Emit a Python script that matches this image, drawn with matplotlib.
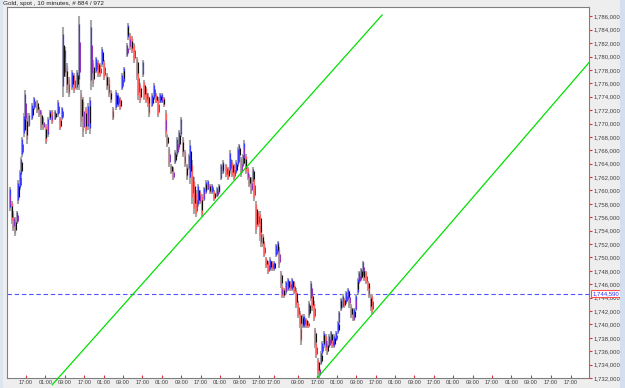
import matplotlib
matplotlib.use('Agg')
import matplotlib.pyplot as plt
import matplotlib.ticker as mticker
from matplotlib.patches import Rectangle

plt.rcParams['font.family'] = ['Liberation Sans', 'DejaVu Sans']

title = 'Gold, spot , 10 minutes, # 884 / 972'

# bar number (10 minute bars) and the low / high read for each sample
bar_idx = [7, 12, 15, 20, 25, 27, 32, 35, 37, 42, 45, 49, 54, 62, 67, 74, 79, 84, 89, 96,
           101, 106, 111, 119, 126, 131, 136, 139, 143, 148, 153, 161, 166, 173, 178, 183, 188, 195, 200, 205,
           208, 213, 220, 225, 230, 235, 240, 247, 252, 257, 262, 270, 275, 280, 285, 289, 297, 299, 304, 309,
           314, 322, 324, 329, 336, 339, 344, 349, 351, 359, 364, 369, 374, 379, 383, 388, 393, 396, 401, 406,
           411, 416, 421, 426, 430, 435, 440, 445, 450, 453, 458, 463, 468, 473, 477, 482, 487, 492, 497, 502,
           507, 512, 520, 524, 529, 534, 542, 547, 552, 557, 562, 567, 572, 574, 579, 584, 586, 591, 596, 599,
           604, 609, 611, 616, 621, 626, 628, 633, 636, 641, 646, 651, 656, 661, 666, 670, 673, 678, 680, 685,
           690, 695, 700, 705, 710, 715, 720, 725, 727, 732, 735, 740, 745, 747, 752, 755, 760, 762, 765, 770,
           772, 777, 780, 784, 789, 792, 797, 802, 804, 809, 814, 819, 821, 826, 831, 834, 839, 844, 846, 851,
           856, 859, 863, 868, 871, 876, 881, 883, 888, 893, 895, 900, 903]
lows = [1757.0, 1755.0, 1754.0, 1753.2, 1755.0, 1758.0, 1760.0, 1762.0, 1765.0, 1768.0, 1769.5, 1767.0, 1769.5, 1770.5, 1772.0, 1771.5, 1771.0, 1769.0, 1769.0, 1767.0,
        1768.0, 1770.5, 1770.0, 1770.5, 1771.0, 1769.0, 1770.5, 1774.0, 1777.0, 1774.5, 1774.0, 1775.0, 1774.5, 1775.0, 1775.0, 1769.5, 1768.0, 1768.5, 1769.0, 1768.5,
        1775.0, 1775.5, 1777.5, 1777.0, 1777.0, 1778.5, 1776.5, 1775.0, 1774.0, 1773.0, 1770.5, 1772.0, 1772.5, 1772.0, 1775.0, 1776.0, 1780.0, 1782.5, 1781.0, 1780.5,
        1779.0, 1776.5, 1773.5, 1773.0, 1777.0, 1773.5, 1773.0, 1772.5, 1771.0, 1772.5, 1773.5, 1773.0, 1771.0, 1773.0, 1773.0, 1772.5, 1768.0, 1766.5, 1763.5, 1762.5,
        1761.5, 1764.0, 1765.0, 1766.0, 1768.0, 1765.0, 1763.5, 1761.5, 1763.0, 1761.0, 1758.0, 1756.5, 1756.0, 1757.5, 1758.0, 1756.0, 1758.5, 1759.5, 1760.0, 1759.5,
        1759.5, 1758.5, 1759.0, 1759.5, 1761.5, 1762.5, 1762.0, 1761.5, 1762.5, 1762.0, 1761.5, 1762.5, 1763.5, 1764.5, 1762.0, 1763.5, 1764.0, 1762.5, 1761.5, 1760.5,
        1759.5, 1761.0, 1758.5, 1753.5, 1754.5, 1752.5, 1751.5, 1751.5, 1750.0, 1748.5, 1747.5, 1748.0, 1748.0, 1748.0, 1750.0, 1750.5, 1748.5, 1745.5, 1744.0, 1744.0,
        1744.5, 1745.0, 1745.0, 1745.0, 1744.5, 1742.5, 1741.0, 1739.5, 1737.0, 1739.5, 1739.5, 1739.5, 1739.5, 1741.0, 1743.5, 1742.0, 1740.5, 1736.5, 1735.0, 1732.5,
        1732.0, 1734.0, 1735.5, 1736.5, 1736.0, 1735.5, 1736.5, 1737.0, 1736.5, 1736.5, 1737.5, 1738.5, 1740.0, 1742.0, 1742.5, 1742.5, 1743.0, 1743.5, 1742.5, 1741.0,
        1740.5, 1740.5, 1742.0, 1744.5, 1746.0, 1746.5, 1747.0, 1746.5, 1746.0, 1745.0, 1744.0, 1742.0, 1741.5]
highs = [1760.5, 1758.5, 1757.0, 1756.0, 1757.0, 1761.5, 1763.0, 1765.0, 1768.0, 1771.5, 1775.0, 1771.5, 1771.5, 1773.0, 1774.0, 1773.5, 1772.5, 1772.0, 1771.0, 1770.0,
         1771.0, 1772.0, 1772.0, 1772.0, 1773.5, 1771.0, 1772.5, 1784.4, 1781.5, 1779.0, 1777.0, 1778.0, 1777.5, 1778.0, 1786.0, 1775.0, 1774.0, 1772.5, 1773.0, 1774.0,
         1785.4, 1779.5, 1780.0, 1779.5, 1779.0, 1781.5, 1779.5, 1777.5, 1777.0, 1775.0, 1772.5, 1775.0, 1774.5, 1774.0, 1777.5, 1778.5, 1782.0, 1785.0, 1783.5, 1783.0,
         1782.0, 1780.0, 1778.5, 1776.0, 1779.5, 1776.5, 1775.5, 1774.5, 1774.0, 1774.5, 1776.0, 1774.5, 1774.0, 1774.5, 1774.5, 1774.0, 1772.0, 1768.5, 1766.5, 1764.0,
         1763.5, 1766.0, 1768.0, 1769.0, 1771.0, 1768.0, 1766.0, 1764.0, 1765.5, 1767.5, 1764.5, 1762.0, 1760.0, 1761.0, 1760.0, 1759.5, 1760.5, 1761.5, 1761.5, 1761.0,
         1761.0, 1760.0, 1760.5, 1761.0, 1764.0, 1764.5, 1764.0, 1763.5, 1766.0, 1764.5, 1764.0, 1764.5, 1766.5, 1767.0, 1765.0, 1765.5, 1767.5, 1765.5, 1763.5, 1762.5,
         1762.0, 1763.5, 1762.0, 1758.5, 1757.0, 1757.0, 1754.5, 1753.5, 1752.5, 1750.0, 1749.5, 1750.0, 1749.5, 1749.5, 1752.0, 1752.5, 1751.5, 1748.0, 1746.0, 1745.5,
         1746.5, 1747.0, 1746.5, 1747.0, 1746.5, 1745.5, 1743.5, 1742.0, 1740.5, 1741.5, 1741.5, 1741.0, 1740.5, 1743.5, 1746.5, 1745.0, 1743.5, 1739.5, 1737.5, 1735.0,
         1734.0, 1736.0, 1737.5, 1739.0, 1738.5, 1737.5, 1738.5, 1739.0, 1738.0, 1738.5, 1739.0, 1740.5, 1742.0, 1744.0, 1744.5, 1744.0, 1745.0, 1745.5, 1745.0, 1743.0,
         1742.0, 1742.5, 1744.5, 1747.0, 1748.0, 1748.5, 1749.5, 1748.5, 1748.0, 1746.5, 1746.0, 1744.5, 1744.5]

last_price = 1744.59

# trend lines (bar, price) pairs
line1 = [(112, 1731.0), (928, 1786.2)]
line2 = [(769, 1732.1), (1500, 1783.3)]

tick_pos = [47, 95, 143, 191, 239, 287, 335, 383, 431, 479, 527, 575, 623, 660,
            720, 768, 816, 864, 912, 960, 1008, 1056, 1104, 1152, 1200, 1248, 1296, 1345, 1395]
tick_labels = ['17:00', '01:00', '09:00', '17:00', '01:00', '09:00', '17:00', '01:00', '09:00',
               '17:00', '01:00', '09:00', '17:00', '17:00', '09:00', '17:00', '01:00', '09:00',
               '17:00', '01:00', '09:00', '17:00', '01:00', '09:00', '17:00', '01:00', '09:00',
               '17:00', '17:00']

fig = plt.figure(figsize=(6.25, 3.88), dpi=100)
fig.patch.set_facecolor('#eeeeee')
ax = fig.add_axes([7 / 625, 10 / 388, 582 / 625, 371 / 388])
ax.set_facecolor('white')

# side strips of the window
fig.patches.append(Rectangle((620 / 625, 0), 5 / 625, 1, transform=fig.transFigure,
                             facecolor='#d3dfee', edgecolor='none', zorder=0))
fig.patches.append(Rectangle((0, 0), 3 / 625, 1, transform=fig.transFigure,
                             facecolor='#dde6f0', edgecolor='none', zorder=0))

# wicks
ax.vlines(bar_idx, lows, highs, color='#a8a8a8', lw=1.5, zorder=2)
# bodies coloured by direction
prev_mid = (lows[0] + highs[0]) / 2
for k, (b, lo, hi) in enumerate(zip(bar_idx, lows, highs)):
    mid = (lo + hi) / 2
    col = '#3a3aff' if mid >= prev_mid else '#ff6060'
    rng = hi - lo
    ax.vlines(b - 0.5, lo + 0.15 * rng, hi - 0.1 * rng, color=col, lw=0.9, zorder=3)
    if k % 2 == 1:
        ax.vlines(b + 1.5, lo + 0.3 * rng, hi - 0.25 * rng, color='#101010', lw=0.8, zorder=4)
    else:
        ax.vlines(b + 1.5, lo + 0.25 * rng, hi - 0.35 * rng, color='#9030c0', lw=0.7, zorder=4)
    prev_mid = mid

# channel lines
ax.plot([p[0] for p in line1], [p[1] for p in line1], color='#00e000', lw=0.9, zorder=5, clip_on=False)
ax.plot([p[0] for p in line2], [p[1] for p in line2], color='#00e000', lw=0.9, zorder=5)

# last price
ax.axhline(last_price, color='#5555ff', lw=0.8, dashes=(4, 2.5), zorder=1)
ax.annotate(f"{int(round(last_price * 1000)):,}", xy=(1, last_price),
            xycoords=('axes fraction', 'data'), xytext=(2.5, 0), textcoords='offset points',
            ha='left', va='center', fontsize=4.3, color='#3030ff', zorder=10,
            bbox=dict(boxstyle='square,pad=0.2', fc='white', ec='#ff5050', lw=0.8),
            annotation_clip=False)

ax.set_xlim(0, 1440)
ax.set_ylim(1732, 1787.4)

ax.yaxis.tick_right()
ax.yaxis.set_major_locator(mticker.MultipleLocator(2))
ax.yaxis.set_major_formatter(mticker.FuncFormatter(lambda v, p: f"{int(round(v * 1000)):,}"))
ax.tick_params(axis='y', colors='#e03030', labelcolor='#404040', length=2, width=0.8,
               labelsize=4.3, pad=1)

ax.set_xticks(tick_pos)
ax.set_xticklabels(tick_labels)
ax.tick_params(axis='x', direction='in', colors='#e03030', labelcolor='#404040', length=2,
               width=0.8, labelsize=4.0, pad=1.5)

for s in ax.spines.values():
    s.set_color('#808080')
    s.set_linewidth(0.8)

fig.text(3 / 625, 1 - 3 / 388, title, fontsize=4.6, color='#202020', va='center', ha='left')

fig.savefig('out.png', dpi=100, facecolor=fig.get_facecolor())
